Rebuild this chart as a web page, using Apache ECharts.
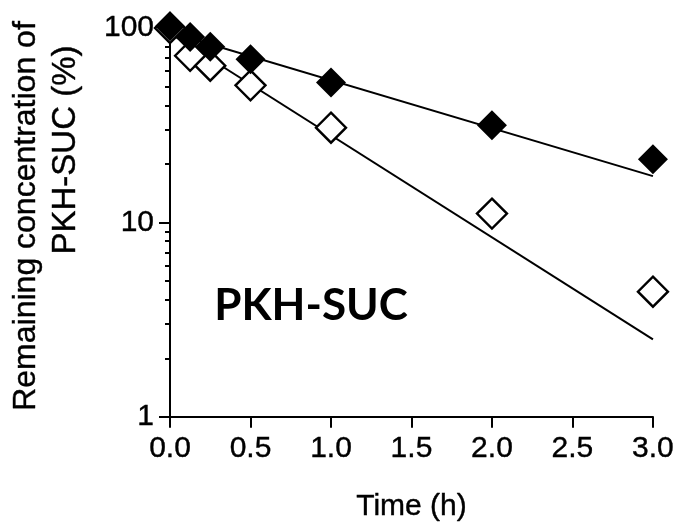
<!DOCTYPE html>
<html>
<head>
<meta charset="utf-8">
<script src="https://cdn.jsdelivr.net/npm/echarts@6/dist/echarts.min.js"></script>
<style>html,body{margin:0;padding:0;background:#fff;}#c{width:677px;height:527px;}</style>
</head>
<body>
<div id="c"></div>
<script>
var timePoints = [0, 0.125, 0.25, 0.5, 1, 2, 3];
var filledValues = [102, 90, 80, 69, 52.5, 31.6, 21.1];
var openValues = [100, 72, 64, 50.7, 30.7, 11.1, 4.4];
var fitTimes = [0, 3];
var fitFilled = [95, 17.3];
var fitOpen = [94, 2.5];
var yMajorTicks = [1, 10, 100];
var yMinorTicks = [2, 3, 4, 5, 6, 7, 8, 9, 20, 30, 40, 50, 60, 70, 80, 90];
var xTickLabels = ['0.0', '0.5', '1.0', '1.5', '2.0', '2.5', '3.0'];

function pairs(xs, ys) { return xs.map(function (x, i) { return [x, ys[i]]; }); }

var FONT = 'Liberation Sans';
var thick = {textBorderColor: '#000', textBorderWidth: 0.4};
var chart = echarts.init(document.getElementById('c'), null, {renderer: 'canvas'});
chart.setOption({
  animation: false,
  backgroundColor: '#fff',
  textStyle: {fontFamily: FONT},
  grid: {left: 170, right: 24, top: 28, bottom: 103, containLabel: false},
  xAxis: {
    type: 'value', min: 0, max: 3, interval: 0.5,
    name: 'Time (h)', nameLocation: 'middle', nameGap: 75,
    nameTextStyle: Object.assign({fontSize: 30, color: '#000', fontFamily: FONT}, thick),
    axisLine: {show: true, onZero: false, lineStyle: {color: '#000', width: 2}},
    axisTick: {show: true, length: 11, lineStyle: {color: '#000', width: 2}},
    axisLabel: Object.assign({fontSize: 30, color: '#000', margin: 17,
      formatter: function (v) { return xTickLabels[Math.round(v / 0.5)]; }}, thick),
    splitLine: {show: false}
  },
  yAxis: [{
    type: 'log', min: 1, max: 100, logBase: 10,
    axisLine: {show: true, onZero: false, lineStyle: {color: '#000', width: 2}},
    axisTick: {show: true, length: 11, customValues: yMajorTicks, lineStyle: {color: '#000', width: 2}},
    axisLabel: Object.assign({fontSize: 30, color: '#000', margin: 16, customValues: yMajorTicks}, thick),
    splitLine: {show: false}
  }, {
    type: 'log', min: 1, max: 100, logBase: 10, position: 'left',
    axisLine: {show: false},
    axisTick: {show: true, length: 5, customValues: yMinorTicks, lineStyle: {color: '#000', width: 2}},
    axisLabel: {show: false},
    splitLine: {show: false}
  }],
  series: [{
    type: 'line', data: pairs(fitTimes, fitFilled), symbol: 'none',
    lineStyle: {color: '#000', width: 2}, z: 2, silent: true
  }, {
    type: 'line', data: pairs(fitTimes, fitOpen), symbol: 'none',
    lineStyle: {color: '#000', width: 2}, z: 2, silent: true
  }, {
    type: 'scatter', data: pairs(timePoints, openValues), symbol: 'diamond', symbolSize: 30,
    itemStyle: {color: '#fff', borderColor: '#000', borderWidth: 2.4, opacity: 1}, z: 3, clip: false
  }, {
    type: 'scatter', data: pairs(timePoints, filledValues), symbol: 'diamond', symbolSize: 30,
    itemStyle: {color: '#000', borderColor: '#000', borderWidth: 0, opacity: 1}, z: 4, clip: false
  }],
  graphic: [{
    type: 'text', x: 26, y: 216, rotation: Math.PI / 2,
    style: {text: 'Remaining concentration of', fontSize: 32, fontFamily: FONT, fill: '#000', align: 'center', verticalAlign: 'middle', stroke: '#000', lineWidth: 0.4}
  }, {
    type: 'text', x: 66, y: 150, rotation: Math.PI / 2,
    style: {text: 'PKH-SUC (%)', fontSize: 33, fontFamily: FONT, fill: '#000', align: 'center', verticalAlign: 'middle', stroke: '#000', lineWidth: 0.4}
  }, {
    type: 'text', x: 311, y: 306,
    style: {text: 'PKH-SUC', fontSize: 44, fontWeight: 'bold', fontFamily: 'Lato', fill: '#000', align: 'center', verticalAlign: 'middle'}
  }]
});
</script>
</body>
</html>
